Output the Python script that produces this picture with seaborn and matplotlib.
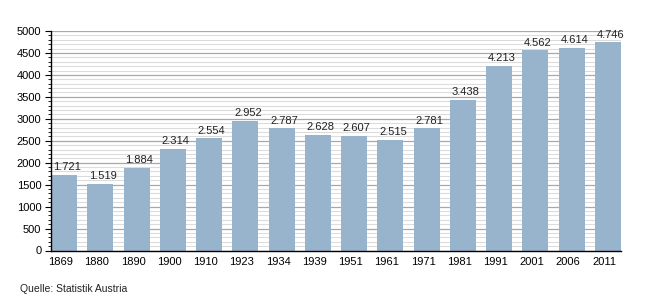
import matplotlib
matplotlib.use("Agg")
import matplotlib.pyplot as plt
import matplotlib.transforms as mtransforms
import seaborn as sns
import pandas as pd
from matplotlib.ticker import MultipleLocator

years = ["1869", "1880", "1890", "1900", "1910", "1923", "1934", "1939",
         "1951", "1961", "1971", "1981", "1991", "2001", "2006", "2011"]
population = [1721, 1519, 1884, 2314, 2554, 2952, 2787, 2628,
              2607, 2515, 2781, 3438, 4213, 4562, 4614, 4746]
labels = ["1.721", "1.519", "1.884", "2.314", "2.554", "2.952", "2.787", "2.628",
          "2.607", "2.515", "2.781", "3.438", "4.213", "4.562", "4.614", "4.746"]

df = pd.DataFrame({"year": years, "pop": population})

sns.set_style("white")
plt.rcParams['font.family'] = ['Liberation Sans', 'DejaVu Sans']

fig = plt.figure(figsize=(6.5, 3.0), dpi=100)
ax = fig.add_axes([51 / 650, 1 - 250.5 / 300, 570 / 650, 219.5 / 300])

sns.barplot(data=df, x="year", y="pop", color="#98b3cc", saturation=1,
            width=0.72, ax=ax, zorder=3, linewidth=0, edgecolor="none")

ax.set_ylim(0, 5000)
ax.set_xlim(-0.36, len(years) - 1 + 0.36)
ax.yaxis.set_major_locator(MultipleLocator(500))
ax.yaxis.set_minor_locator(MultipleLocator(100))
ax.grid(which="major", axis="y", color="#a8a8a8", linewidth=0.9, zorder=0)
ax.grid(which="minor", axis="y", color="#dcdcdc", linewidth=0.8, zorder=0)
ax.set_axisbelow(True)

for s in ["top", "right"]:
    ax.spines[s].set_visible(False)
for s in ["left", "bottom"]:
    ax.spines[s].set_color("black")
    ax.spines[s].set_linewidth(1.0)
    ax.spines[s].set_zorder(5)

ax.tick_params(axis="y", which="major", left=True, length=4, width=0.8,
               labelsize=8, pad=3, colors="black")
ax.tick_params(axis="y", which="minor", left=True, length=2, width=0.6, colors="black")
ax.tick_params(axis="x", bottom=False, labelsize=8, pad=1.5, colors="black")
ax.set_xlabel("")
ax.set_ylabel("")

# x tick labels sit slightly left of bar centres in the reference
shift_left = mtransforms.ScaledTranslation(-3.5 / 100, 0, fig.dpi_scale_trans)
for lab in ax.get_xticklabels():
    lab.set_transform(lab.get_transform() + shift_left)

# value labels sit slightly right of bar centres
val_trans = mtransforms.offset_copy(ax.transData, fig=fig, x=2.5, y=0, units="dots")
for i, (v, lab) in enumerate(zip(population, labels)):
    ax.text(i, v + 60, lab, ha="center", va="bottom", fontsize=8,
            color="#222222", transform=val_trans, zorder=6)

fig.text(0.031, 0.037, "Quelle: Statistik Austria", fontsize=7.5, color="#222222",
         ha="left", va="center")

fig.savefig("out.png", dpi=100)
